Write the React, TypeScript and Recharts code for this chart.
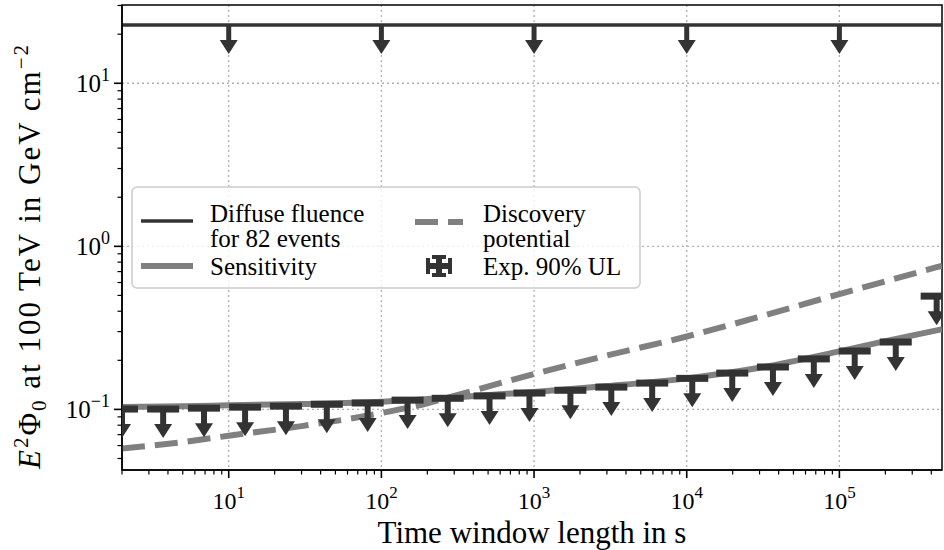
import React from 'react'
import {
  ComposedChart,
  Line,
  Scatter,
  XAxis,
  YAxis,
  CartesianGrid,
  ReferenceArea,
} from 'recharts'

const SERIF = 'Liberation Serif, DejaVu Serif, serif'
const DARK = '#333333'
const GRAY = '#808080'
const GRID = '#b0b0b0'

// axis ranges: time window [s] and E^2 Phi_0 [GeV cm^-2]
const xDomain = [2, 4.7e5]
const yDomain = [0.0425, 30.2]

const xMajorTicks = [10, 100, 1000, 10000, 100000]
const xMinorTicks = [
  2, 3, 4, 5, 6, 7, 8, 9,
  20, 30, 40, 50, 60, 70, 80, 90,
  200, 300, 400, 500, 600, 700, 800, 900,
  2000, 3000, 4000, 5000, 6000, 7000, 8000, 9000,
  20000, 30000, 40000, 50000, 60000, 70000, 80000, 90000,
  200000, 300000, 400000,
]
const yMajorTicks = [0.1, 1, 10]
const yMinorTicks = [
  0.05, 0.06, 0.07, 0.08, 0.09,
  0.2, 0.3, 0.4, 0.5, 0.6, 0.7, 0.8, 0.9,
  2, 3, 4, 5, 6, 7, 8, 9,
  20, 30,
]

// diffuse fluence for 82 events
const diffuseLevel = 22.8
const diffuseArrowTimes = [10, 100, 1000, 10000, 100000]

// expected 90% upper limits
const ulTimes = [
  2, 3.72, 6.89, 12.8, 23.7, 43.9, 81.3, 148.5, 272, 511, 933,
  1730, 3206, 5940, 10870, 19870, 36700, 68000, 126000, 234000, 433600,
]
const ulValues = [
  0.1005, 0.1005, 0.1018, 0.1032, 0.1047, 0.1075, 0.1095, 0.114, 0.117, 0.121, 0.126,
  0.131, 0.137, 0.145, 0.155, 0.167, 0.182, 0.204, 0.228, 0.259, 0.495,
]

// sensitivity
const sensTimes = [2, 5, 10, 30, 100, 300, 1000, 3000, 10000, 30000, 100000, 200000, 470000]
const sensValues = [0.1035, 0.1045, 0.106, 0.108, 0.1115, 0.1185, 0.128, 0.139, 0.155, 0.18, 0.227, 0.262, 0.31]

// discovery potential
const discTimes = [2, 5, 10, 30, 100, 200, 300, 1000, 3000, 10000, 30000, 100000, 200000, 470000]
const discValues = [0.0575, 0.063, 0.069, 0.079, 0.095, 0.109, 0.121, 0.165, 0.214, 0.28, 0.37, 0.51, 0.61, 0.76]

const diffuseData = xDomain.map((t) => ({ t, e: diffuseLevel }))
const diffuseArrowData = diffuseArrowTimes.map((t) => ({ t, e: diffuseLevel }))
const ulData = ulTimes.map((t, i) => ({ t, e: ulValues[i] }))
const sensData = sensTimes.map((t, i) => ({ t, e: sensValues[i] }))
const discData = discTimes.map((t, i) => ({ t, e: discValues[i] }))

const expLabel = (v: number) => {
  const n = Math.round(Math.log10(v))
  return n < 0 ? `\u2212${-n}` : `${n}`
}

const XTick = ({ x, y, payload }: any) => {
  const v = payload.value
  const major = xMajorTicks.includes(v)
  return (
    <g>
      <line x1={x} x2={x} y1={y} y2={y + (major ? 8 : 4.5)} stroke="#000" strokeWidth={major ? 1.6 : 1.2} />
      {major && (
        <text x={x} y={y + 39} textAnchor="middle" fontFamily={SERIF} fontSize={24} fill="#000">
          10<tspan dy={-11} fontSize={17} fontFamily={SERIF}>{expLabel(v)}</tspan>
        </text>
      )}
    </g>
  )
}

const YTick = ({ x, y, payload }: any) => {
  const v = payload.value
  const major = yMajorTicks.includes(v)
  return (
    <g>
      <line x1={x} x2={x - (major ? 8 : 4.5)} y1={y} y2={y} stroke="#000" strokeWidth={major ? 1.6 : 1.2} />
      {major && (
        <text x={x - 12} y={y + 9} textAnchor="end" fontFamily={SERIF} fontSize={25} fill="#000">
          10<tspan dy={-11} fontSize={18} fontFamily={SERIF}>{expLabel(v)}</tspan>
        </text>
      )}
    </g>
  )
}

// down arrow used for the diffuse fluence limit
const DownArrow = ({ cx, cy }: any) => (
  <g fill={DARK}>
    <rect x={cx - 2.5} y={cy} width={5} height={17} />
    <polygon points={`${cx - 9},${cy + 15} ${cx + 9},${cy + 15} ${cx},${cy + 29}`} />
  </g>
)

const UpperLimit = ({ cx, cy }: any) => (
  <g fill={DARK}>
    <rect x={cx - 16} y={cy - 3.5} width={32} height={7} />
    <rect x={cx - 3} y={cy} width={6} height={17} />
    <polygon points={`${cx - 9},${cy + 15} ${cx + 9},${cy + 15} ${cx},${cy + 29}`} />
  </g>
)

const XLabel = ({ viewBox }: any) => (
  <text
    x={viewBox.x + viewBox.width / 2}
    y={viewBox.y + 73}
    textAnchor="middle"
    fontFamily={SERIF}
    fontSize={31}
    fill="#000"
  >
    Time window length in s
  </text>
)

const YLabel = () => {
  const bx = 40
  const cy = 256
  return (
    <text
      x={bx}
      y={cy}
      transform={`rotate(-90, ${bx}, ${cy})`}
      textAnchor="middle"
      fontFamily={SERIF}
      fontSize={31}
      letterSpacing={2}
      fill="#000"
    >
      <tspan fontStyle="italic">E</tspan>
      <tspan dy={-12} fontSize={21}>2</tspan>
      <tspan dy={12}>Φ</tspan>
      <tspan dy={6} fontSize={21}>0</tspan>
      <tspan dy={-6}> at 100 TeV in GeV cm</tspan>
      <tspan dy={-12} fontSize={21}>{'\u22122'}</tspan>
    </text>
  )
}

const ChartLegend = () => (
  <svg
    width={512}
    height={105}
    style={{ position: 'absolute', left: 131, top: 186 }}
  >
    <rect x={1} y={1} width={508} height={101} rx={5} fill="rgba(255,255,255,0.8)" stroke="#cccccc" strokeWidth={1.5} />
    <line x1={10} x2={62} y1={35} y2={35} stroke={DARK} strokeWidth={3.5} />
    <text x={79} y={36} fontFamily={SERIF} fontSize={25} fill="#000">Diffuse fluence</text>
    <text x={79} y={61} fontFamily={SERIF} fontSize={25} fill="#000">for 82 events</text>
    <line x1={10} x2={62} y1={80} y2={80} stroke={GRAY} strokeWidth={6} />
    <text x={79} y={89} fontFamily={SERIF} fontSize={25} fill="#000">Sensitivity</text>
    <line x1={284} x2={332} y1={36} y2={36} stroke={GRAY} strokeWidth={6} strokeDasharray="23 10" />
    <text x={352} y={36} fontFamily={SERIF} fontSize={25} fill="#000">Discovery</text>
    <text x={352} y={61} fontFamily={SERIF} fontSize={25} fill="#000">potential</text>
    <g fill={DARK} transform="translate(308, 80)">
      <rect x={-13} y={-3} width={26} height={6} />
      <rect x={-13} y={-8} width={4} height={16} />
      <rect x={9} y={-8} width={4} height={16} />
      <rect x={-3} y={-11} width={6} height={22} />
      <rect x={-7} y={-11} width={14} height={4} />
      <rect x={-7} y={7} width={14} height={4} />
    </g>
    <text x={352} y={89} fontFamily={SERIF} fontSize={25} fill="#000">Exp. 90% UL</text>
  </svg>
)

export default function App() {
  return (
    <div style={{ position: 'absolute', left: 0, top: 0, width: 944, height: 550, background: '#fff' }}>
      <ComposedChart width={944} height={550} margin={{ top: 5, right: 2, bottom: 0, left: 0 }}>
        <CartesianGrid
          verticalValues={xMajorTicks}
          horizontalValues={yMajorTicks}
          stroke={GRID}
          strokeWidth={1.3}
          strokeDasharray="2 3"
        />
        <XAxis
          dataKey="t"
          type="number"
          scale="log"
          domain={xDomain}
          allowDataOverflow
          ticks={[...xMinorTicks, ...xMajorTicks]}
          interval={0}
          tick={<XTick />}
          tickLine={false}
          tickSize={0}
          tickMargin={0}
          height={80}
          axisLine={{ stroke: '#000', strokeWidth: 1.5 }}
          label={<XLabel />}
        />
        <YAxis
          dataKey="e"
          type="number"
          scale="log"
          domain={yDomain}
          allowDataOverflow
          ticks={[...yMinorTicks, ...yMajorTicks]}
          interval={0}
          tick={<YTick />}
          tickLine={false}
          tickSize={0}
          tickMargin={0}
          width={122}
          axisLine={{ stroke: '#000', strokeWidth: 1.5 }}
          label={<YLabel />}
        />
        <Line
          data={discData}
          dataKey="e"
          type="monotone"
          stroke={GRAY}
          strokeWidth={6}
          strokeDasharray="23 10"
          dot={false}
          activeDot={false}
          isAnimationActive={false}
        />
        <Line
          data={sensData}
          dataKey="e"
          type="monotone"
          stroke={GRAY}
          strokeWidth={6}
          dot={false}
          activeDot={false}
          isAnimationActive={false}
        />
        <Scatter data={ulData} dataKey="e" shape={<UpperLimit />} isAnimationActive={false} />
        <Line
          data={diffuseData}
          dataKey="e"
          type="linear"
          stroke={DARK}
          strokeWidth={3.5}
          dot={false}
          activeDot={false}
          isAnimationActive={false}
        />
        <Scatter data={diffuseArrowData} dataKey="e" shape={<DownArrow />} isAnimationActive={false} />
        <ReferenceArea
          x1={xDomain[0]}
          x2={xDomain[1]}
          y1={yDomain[0]}
          y2={yDomain[1]}
          fill="none"
          fillOpacity={0}
          stroke="#000"
          strokeWidth={1.5}
        />
      </ComposedChart>
      <ChartLegend />
    </div>
  )
}
